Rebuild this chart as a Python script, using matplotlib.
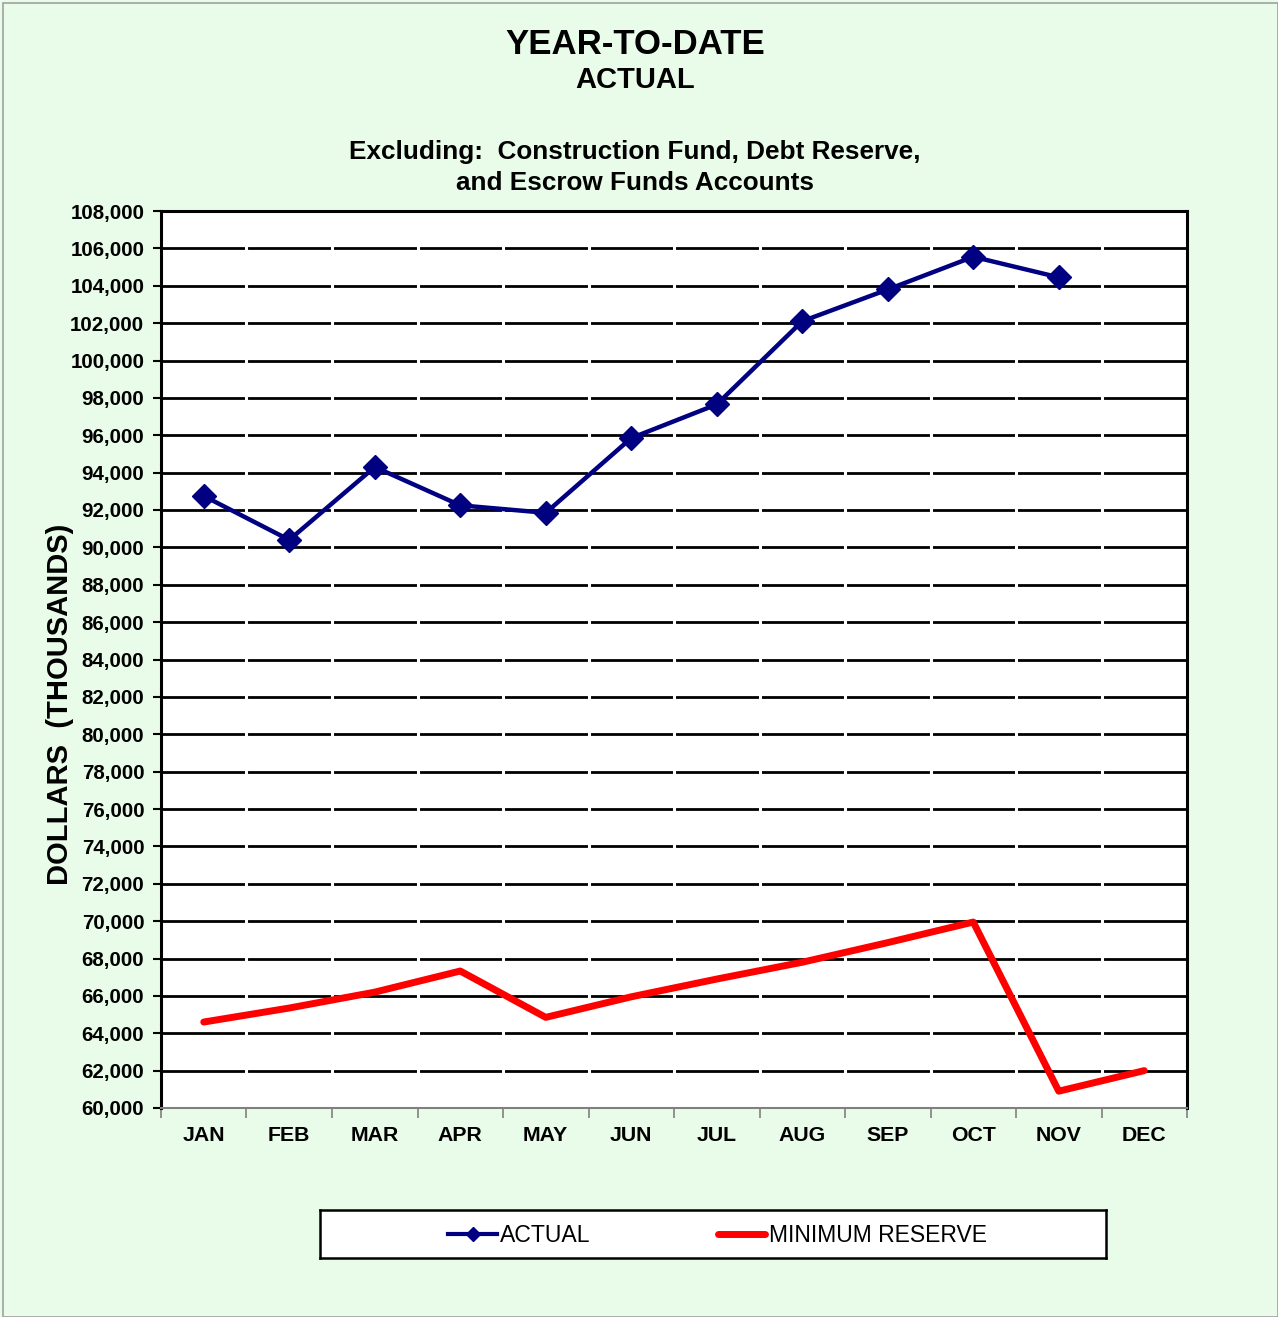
import matplotlib
matplotlib.use("Agg")
import matplotlib.pyplot as plt
import numpy as np

months = ["JAN", "FEB", "MAR", "APR", "MAY", "JUN", "JUL", "AUG", "SEP", "OCT", "NOV", "DEC"]
actual = [92750, 90400, 94300, 92250, 91850, 95850, 97650, 102100, 103800, 105550, 104450]
min_reserve = [64600, 65350, 66200, 67330, 64850, 65950, 66900, 67800, 68850, 69950, 60900, 62000]
yticks = list(range(60000, 108001, 2000))

plt.rcParams['font.family'] = ['Liberation Sans', 'DejaVu Sans']

BG = "#E9FCE9"
fig = plt.figure(figsize=(12.78, 13.17), dpi=100, facecolor=BG)
W, H = 1278, 1317
L, R, T, B = 161, 1187, 211, 1108
ax = fig.add_axes([L / W, 1 - B / H, (R - L) / W, (B - T) / H])
ax.set_facecolor("white")

x = np.arange(len(months))
ax.set_xlim(-0.5, len(months) - 0.5)
ax.set_ylim(yticks[0], yticks[-1])

# gridlines
for yv in yticks[1:-1]:
    ax.axhline(yv, color="black", lw=2.0, zorder=1)
# small gaps in gridlines at category boundaries
for b in np.arange(0.5, len(months) - 0.5, 1):
    ax.axvline(b, color="white", lw=2.2, zorder=1.5)

ax.plot(x[:len(actual)], actual, color="#000080", lw=3.2, marker="D", markersize=12,
        zorder=3, label="ACTUAL", solid_joinstyle="miter")
ax.plot(x, min_reserve, color="#FF0000", lw=5, zorder=3, label="MINIMUM RESERVE",
        solid_capstyle="round")

ax.set_yticks(yticks)
ax.set_yticklabels([f"{v:,}" for v in yticks], fontsize=14.8, fontweight="bold")
ax.tick_params(axis="y", length=6, width=1.5, color="black", pad=6)

ax.set_xticks(x)
ax.set_xticklabels(months, fontsize=15.3, fontweight="bold")
ax.tick_params(axis="x", which="major", length=0, pad=13)
ax.set_xticks(np.arange(-0.5, len(months), 1), minor=True)
ax.tick_params(axis="x", which="minor", length=7, width=1.2, color="#808080")

for s in ["left", "top", "right"]:
    ax.spines[s].set_linewidth(2.2)
    ax.spines[s].set_color("black")
ax.spines["bottom"].set_linewidth(1.5)
ax.spines["bottom"].set_color("#808080")

fig.text(60 / W, 1 - 704 / H, "DOLLARS  (THOUSANDS)", rotation=90, ha="center", va="center",
         fontsize=21, fontweight="bold")

fig.text(635 / W, 1 - 45 / H, "YEAR-TO-DATE", ha="center", va="center", fontsize=25, fontweight="bold")
fig.text(635 / W, 1 - 80 / H, "ACTUAL", ha="center", va="center", fontsize=21, fontweight="bold")
fig.text(635 / W, 1 - 152 / H, "Excluding:  Construction Fund, Debt Reserve,", ha="center", va="center",
         fontsize=18.8, fontweight="bold")
fig.text(635 / W, 1 - 183 / H, "and Escrow Funds Accounts", ha="center", va="center",
         fontsize=18.8, fontweight="bold")

# legend
lx0, ly0, lx1, ly1 = 320, 1210, 1106, 1258
leg_ax = fig.add_axes([lx0 / W, 1 - ly1 / H, (lx1 - lx0) / W, (ly1 - ly0) / H])
leg_ax.set_xlim(lx0, lx1)
leg_ax.set_ylim(ly1, ly0)
leg_ax.set_xticks([])
leg_ax.set_yticks([])
for s in leg_ax.spines.values():
    s.set_linewidth(1.8)
    s.set_color("black")
leg_ax.set_facecolor("white")
ly = (ly0 + ly1) / 2
leg_ax.plot([448, 497], [ly, ly], color="#000080", lw=3)
leg_ax.plot([472.5], [ly], color="#000080", marker="D", markersize=7)
leg_ax.text(500, ly + 1, "ACTUAL", ha="left", va="center", fontsize=16.6)
leg_ax.plot([718, 765], [ly, ly], color="#FF0000", lw=5, solid_capstyle="round")
leg_ax.text(769, ly + 1, "MINIMUM RESERVE", ha="left", va="center", fontsize=16.5)

# outer border
border = plt.Rectangle((3 / W, 0), 1 - 3 / W, 1 - 3 / H, transform=fig.transFigure,
                       fill=False, edgecolor="#a0a0a0", lw=1.2)
fig.patches.append(border)

fig.savefig("out.png", dpi=100, facecolor=BG)
